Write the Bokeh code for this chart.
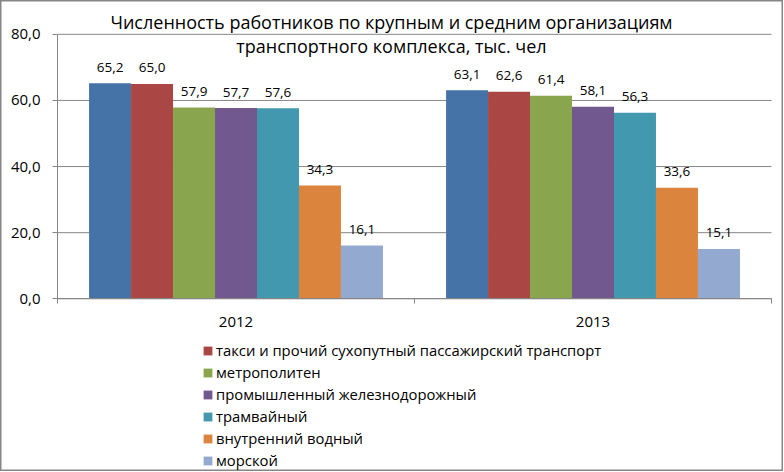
from bokeh.plotting import figure
from bokeh.models import Range1d, FixedTicker, Label, Legend, LegendItem, ColumnDataSource
from bokeh.core.properties import value
from bokeh.embed import file_html
from bokeh.resources import INLINE

years = ["2012", "2013"]
series = [
    "автобусный",
    "такси и прочий сухопутный пассажирский транспорт",
    "метрополитен",
    "промышленный железнодорожный",
    "трамвайный",
    "внутренний водный",
    "морской",
]
vals_2012 = [65.2, 65.0, 57.9, 57.7, 57.6, 34.3, 16.1]
vals_2013 = [63.1, 62.6, 61.4, 58.1, 56.3, 33.6, 15.1]
colors = ["#4572A7", "#AA4643", "#89A54E", "#71588F", "#4198AF", "#DB843D", "#93A9CF"]
y_ticks = [0, 20, 40, 60, 80]
y_tick_labels = ["0,0", "20,0", "40,0", "60,0", "80,0"]
title_lines = [
    "Численность работников по крупным и средним организациям",
    "транспортного комплекса, тыс. чел",
]

FONT = "Open Sans"
GRAY = "#868686"

p = figure(width=783, height=471, output_backend="svg", toolbar_location=None,
           x_range=Range1d(-0.1597, 2.0336), y_range=Range1d(-52.24, 90.23),
           min_border_left=0, min_border_right=0, min_border_top=0, min_border_bottom=0)
p.outline_line_color = GRAY
p.outline_line_width = 2
p.background_fill_color = "white"
p.border_fill_color = "white"

# horizontal grid lines, spanning the category area only
p.segment(x0=[0] * len(y_ticks), x1=[len(years)] * len(y_ticks), y0=y_ticks, y1=y_ticks,
          line_color=GRAY, line_width=1, level="underlay")

n = len(series)
bw = 0.1176
renderers = []
for j in range(n):
    xs = [i + 0.5 + (j - (n - 1) / 2) * bw for i in range(len(years))]
    tops = [vals_2012[j], vals_2013[j]]
    src = ColumnDataSource(dict(x=xs, top=tops,
                                lab=[f"{v:.1f}".replace(".", ",") for v in tops]))
    r = p.vbar(x="x", top="top", width=bw, bottom=0, source=src,
               fill_color=colors[j], line_color=None)
    renderers.append(r)
    p.text(x="x", y="top", text="lab", source=src, text_align="center",
           text_baseline="alphabetic", y_offset=-16,
           text_font=value(FONT), text_font_size="13.5px", text_color="#000000")

# x axis, placed at y = 0 inside the frame
p.xaxis.fixed_location = 0
p.xaxis.bounds = (0, len(years))
p.xaxis.ticker = FixedTicker(ticks=[0.5, 1.5], minor_ticks=[0, 1, 2])
p.xaxis.major_label_overrides = {0.5: years[0], 1.5: years[1]}
p.xaxis.major_tick_line_color = None
p.xaxis.major_tick_out = 0
p.xaxis.major_tick_in = 0
p.xaxis.minor_tick_line_color = GRAY
p.xaxis.minor_tick_out = 5
p.xaxis.minor_tick_in = 0
p.xaxis.axis_line_color = GRAY
p.xaxis.major_label_standoff = 13
p.xaxis.major_label_text_font = FONT
p.xaxis.major_label_text_font_size = "15px"
p.xaxis.major_label_text_color = "#000000"

# y axis, placed at x = 0 inside the frame
p.yaxis.fixed_location = 0
p.yaxis.ticker = FixedTicker(ticks=y_ticks)
p.yaxis.bounds = (0, 80)
p.yaxis.major_label_overrides = {t: l for t, l in zip(y_ticks, y_tick_labels)}
p.yaxis.major_tick_line_color = GRAY
p.yaxis.major_tick_out = 5
p.yaxis.major_tick_in = 0
p.yaxis.minor_tick_line_color = None
p.yaxis.axis_line_color = GRAY
p.yaxis.major_label_standoff = 12
p.yaxis.major_label_text_font = FONT
p.yaxis.major_label_text_font_size = "15px"
p.yaxis.major_label_text_color = "#000000"

p.xgrid.grid_line_color = None
p.ygrid.grid_line_color = None

# title
for txt, yy in zip(title_lines, [449.7, 426]):
    p.add_layout(Label(x=391, y=yy, x_units="screen", y_units="screen", text=txt,
                       text_align="center", text_baseline="alphabetic",
                       text_font=FONT, text_font_size="18px", text_color="#000000"))

legend = Legend(items=[LegendItem(label=series[j], renderers=[renderers[j]]) for j in range(1, n)],
                location=(202, 1), orientation="vertical",
                glyph_width=11, glyph_height=11, label_standoff=3,
                label_height=20, spacing=2, padding=0, margin=0,
                border_line_color=None, background_fill_alpha=0,
                label_text_font=FONT, label_text_font_size="14.8px", label_text_color="#000000")
p.add_layout(legend)

open("out.html", "w").write(file_html(p, INLINE))
